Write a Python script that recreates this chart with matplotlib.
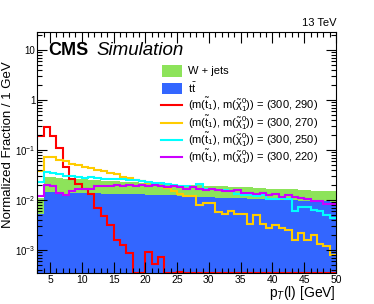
import numpy as np
import matplotlib
matplotlib.use("Agg")
import matplotlib.pyplot as plt
from matplotlib.patches import Rectangle
from matplotlib.lines import Line2D
from matplotlib.ticker import MultipleLocator, LogLocator, NullFormatter

plt.rcParams['font.family'] = ['Liberation Sans', 'DejaVu Sans']
plt.rcParams['mathtext.fontset'] = 'custom'
plt.rcParams['mathtext.rm'] = 'Liberation Sans'
plt.rcParams['mathtext.it'] = 'Liberation Sans:italic'
plt.rcParams['mathtext.bf'] = 'Liberation Sans:bold'

# lepton pT bins, 1 GeV wide, 3..50
edges = np.arange(3, 51, 1)

wjets = [0.011, 0.029, 0.029, 0.028, 0.027, 0.027, 0.026, 0.026, 0.025, 0.025,
         0.024, 0.024, 0.024, 0.023, 0.023, 0.023, 0.022, 0.022, 0.022, 0.021,
         0.021, 0.021, 0.020, 0.020, 0.020, 0.020, 0.019, 0.019, 0.019, 0.019,
         0.018, 0.018, 0.018, 0.018, 0.0175, 0.0175, 0.017, 0.017, 0.017, 0.0165,
         0.0165, 0.016, 0.016, 0.0155, 0.015, 0.015, 0.015]

ttbar = [0.0052, 0.0145, 0.0145, 0.0135, 0.0135, 0.014, 0.014, 0.014, 0.0138, 0.0138,
         0.0135, 0.0135, 0.0135, 0.013, 0.013, 0.013, 0.013, 0.0128, 0.0128, 0.0125,
         0.0125, 0.0125, 0.012, 0.012, 0.012, 0.0118, 0.0115, 0.0115, 0.0113, 0.0112,
         0.011, 0.011, 0.0108, 0.0107, 0.0105, 0.0105, 0.0103, 0.0102, 0.010, 0.010,
         0.0099, 0.0098, 0.0097, 0.0096, 0.0095, 0.0095, 0.0094]

sig_290 = [0.19, 0.285, 0.19, 0.11, 0.045, 0.026, 0.021, 0.017, 0.0134, 0.0069,
           0.0049, 0.0032, 0.0016, 0.00125, 0.00089, 0, 0, 0.00092, 0.00053, 0.00073,
           0, 0, 0.00036, 0, 0, 0, 0, 0, 0, 0,
           0, 0, 0, 0, 0, 0, 0, 0, 0, 0,
           0, 0, 0, 0, 0, 0, 0]

sig_270 = [0.038, 0.074, 0.072, 0.065, 0.060, 0.053, 0.050, 0.046, 0.043, 0.040,
           0.038, 0.035, 0.034, 0.029, 0.028, 0.025, 0.024, 0.022, 0.021, 0.019,
           0.0176, 0.015, 0.0134, 0.012, 0.012, 0.0079, 0.0088, 0.0088, 0.0058, 0.0053,
           0.006, 0.0052, 0.0052, 0.0034, 0.005, 0.0034, 0.0028, 0.0032, 0.0028, 0.0025,
           0.0016, 0.0022, 0.0016, 0.002, 0.0013, 0.0012, 0.0008]

sig_250 = [0.023, 0.036, 0.035, 0.033, 0.031, 0.030, 0.029, 0.028, 0.029, 0.028,
           0.027, 0.027, 0.026, 0.026, 0.025, 0.025, 0.024, 0.023, 0.022, 0.022,
           0.021, 0.020, 0.019, 0.019, 0.018, 0.021, 0.017, 0.017, 0.016, 0.016,
           0.015, 0.013, 0.0125, 0.0125, 0.012, 0.0125, 0.0105, 0.0105, 0.011, 0.0105,
           0.0062, 0.0074, 0.0074, 0.0063, 0.0062, 0.005, 0.0044]

sig_220 = [0.012, 0.0197, 0.019, 0.0136, 0.0124, 0.0156, 0.017, 0.0164, 0.017, 0.019,
           0.019, 0.019, 0.020, 0.019, 0.020, 0.019, 0.020, 0.019, 0.020, 0.019,
           0.018, 0.019, 0.018, 0.017, 0.018, 0.017, 0.016, 0.017, 0.016, 0.0155,
           0.015, 0.016, 0.014, 0.014, 0.0135, 0.014, 0.0125, 0.013, 0.0118, 0.0125,
           0.0115, 0.011, 0.0105, 0.0095, 0.0095, 0.0085, 0.0085]

signals = [
    (sig_290, '#ff0000', '290'),
    (sig_270, '#ffcc00', '270'),
    (sig_250, '#00ffff', '250'),
    (sig_220, '#cc00ff', '220'),
]
green = '#8de35a'
blue = '#3366ff'

ymin, ymax = 3.5e-4, 23

W, H = 374, 304
fig = plt.figure(figsize=(W / 100, H / 100), dpi=100)
ax = fig.add_axes([37.3 / W, (H - 273) / H, (336 - 37.3) / W, (273 - 32) / H])

ax.stairs(wjets, edges, fill=True, color=green, baseline=1e-6, lw=0)
ax.stairs(ttbar, edges, fill=True, color=blue, baseline=1e-6, lw=0)

for vals, col, m in signals:
    v = np.array(vals, dtype=float)
    v = np.where(v > 0, v, ymin)  # empty bins sit on the frame, like ROOT
    ax.stairs(v, edges, color=col, lw=1.5, baseline=None)

ax.set_yscale('log')
ax.set_xlim(3, 50)
ax.set_ylim(ymin, ymax)

ax.xaxis.set_major_locator(MultipleLocator(5))
ax.xaxis.set_minor_locator(MultipleLocator(1))
ax.set_yticks([1e-3, 1e-2, 1e-1, 1, 10])
ax.set_yticklabels(['$10^{-3}$', '$10^{-2}$', '$10^{-1}$', '1', '10'])
ax.yaxis.set_minor_locator(LogLocator(base=10, subs=np.arange(2, 10)))
ax.yaxis.set_minor_formatter(NullFormatter())
ax.tick_params(which='both', direction='in', top=True, right=True, width=0.8)
ax.tick_params(which='major', length=7)
ax.tick_params(which='minor', length=3.5)
ax.tick_params(axis='x', which='major', length=8, pad=1.5, labelsize=7.5)
ax.tick_params(axis='y', pad=1.5, labelsize=7)

# axis titles placed like the ROOT canvas
fig.text(336 / W, (H - 297) / H, 'p$_{T}$(l) [GeV]', fontsize=10,
         ha='right', va='baseline')
fig.text(8 / W, (H - 228) / H, 'Normalized Fraction / 1 GeV', fontsize=9.5,
         rotation=90, ha='center', va='bottom')

fig.text(48 / W, (H - 55) / H, 'CMS', fontsize=13, fontweight='bold',
         ha='left', va='baseline')
fig.text(96 / W, (H - 55) / H, 'Simulation', fontsize=13.5, style='italic',
         ha='left', va='baseline')
fig.text(337 / W, (H - 26) / H, '13 TeV', fontsize=8, ha='right', va='baseline')

# legend, drawn by hand in figure pixels
labels = ['W + jets', r'$\mathrm{t\bar{t}}$']
for vals, col, m in signals:
    labels.append(r'(m($\mathrm{\tilde{t}_1}$), m($\mathrm{\tilde{\chi}^0_1}$)) = (300, %s)' % m)
for i, lab in enumerate(labels):
    yc = 71 + 17.2 * i
    if i < 2:
        fig.patches.append(Rectangle((162 / W, (H - yc - 5.5) / H), 20 / W, 11 / H,
                                     transform=fig.transFigure,
                                     color=[green, blue][i], lw=0))
    else:
        col = signals[i - 2][1]
        fig.lines.append(Line2D([161 / W, 182 / W], [(H - yc) / H] * 2,
                                transform=fig.transFigure, color=col, lw=1.5))
    fig.text(188 / W, (H - yc) / H, lab, fontsize=8, ha='left', va='center')

fig.savefig('out.png', dpi=100)
